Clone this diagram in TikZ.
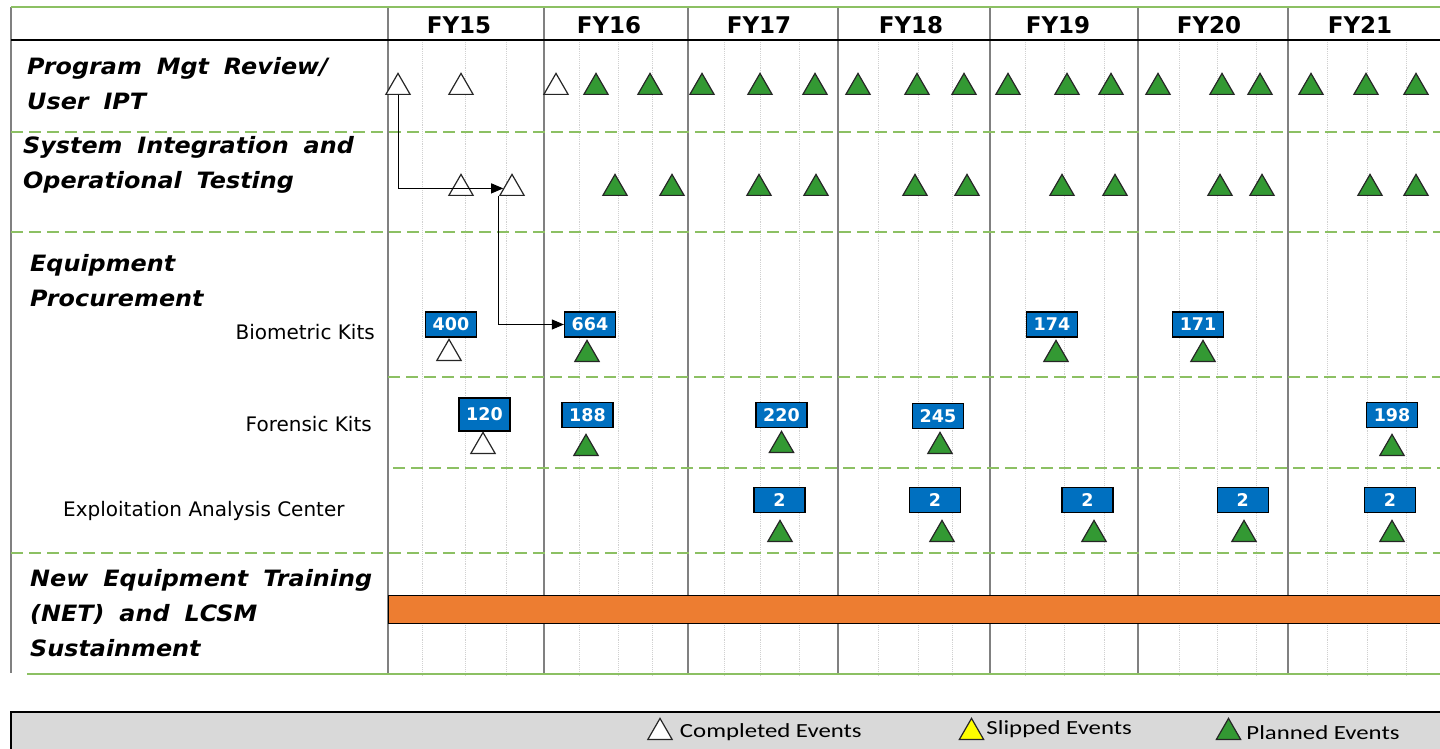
\documentclass[tikz,border=0pt]{standalone}
\usepackage{fontspec}
\setmainfont{DejaVu Sans}
\newfontfamily\rowfont[FakeStretch=1.06,WordSpace=1.8]{DejaVu Sans}
\newfontfamily\legendfont[FakeStretch=1.24]{Carlito}
\usetikzlibrary{shapes.geometric, arrows.meta, positioning}
\definecolor{gridgreen}{HTML}{8CC063}
\definecolor{plangreen}{HTML}{339933}
\definecolor{boxblue}{HTML}{0070C0}
\definecolor{netorange}{HTML}{ED7D31}
\definecolor{legendgray}{HTML}{D9D9D9}
\definecolor{slipyellow}{HTML}{FFFF00}

\begin{document}
\begin{tikzpicture}[x=1pt,y=-1pt,>={Triangle[length=12pt,width=10pt]},
    event/.style={regular polygon,regular polygon sides=3,minimum size=28pt,inner sep=0pt,
      draw=black!85,line width=1.2pt,anchor=south},
    done/.style={event,fill=white},
    planned/.style={event,fill=plangreen},
    slipped/.style={event,fill=slipyellow},
    qty/.style={draw,line width=1.2pt,fill=boxblue,text=white,inner sep=0pt,
      minimum width=51pt,minimum height=25pt,font=\bfseries\fontsize{17.5}{17.5}\selectfont},
    year/.style={font=\bfseries\fontsize{23}{23}\selectfont},
    rowlabel/.style={anchor=base west,align=left,inner sep=0pt,
      font=\rowfont\bfseries\itshape\fontsize{22.5}{35}\selectfont},
    sublabel/.style={inner sep=0pt,font=\fontsize{20}{20}\selectfont},
    legend/.style={inner sep=0pt,font=\legendfont\fontsize{20}{20}\selectfont},
    yearline/.style={black!50,line width=1.3pt},
    quarterline/.style={black!18,densely dotted,line width=0.9pt},
    rowsep/.style={gridgreen,line width=1.3pt,dash pattern=on 12pt off 6pt}]
  \useasboundingbox (0,0) rectangle (1440,749);

  % grid
  \foreach \x in {422,465,506,579,618,652,724,760,799,878,918,952,
                  1025,1064,1104,1179,1217,1256,1327,1367,1406}
    \draw[quarterline] (\x,40) -- (\x,676);
  \foreach \x in {388,544,688,838,990,1138,1288}
    \draw[yearline] (\x,7) -- (\x,674);
  \draw[yearline] (11,7) -- (11,673);
  \draw[gridgreen,line width=1.3pt] (11,7) -- (1440,7);
  \draw[line width=2.5pt] (11,40) -- (1440,40);
  \draw[rowsep] (11,132) -- (1440,132);
  \draw[rowsep] (11,232) -- (1440,232);
  \draw[rowsep] (388,377) -- (1440,377);
  \draw[rowsep] (393,468) -- (1440,468);
  \draw[rowsep] (11,553) -- (1440,553);
  \draw[gridgreen,line width=1.3pt] (27,674) -- (1440,674);

  % fiscal years
  \foreach \x/\fy in {459/15,609/16,759/17,911/18,1058/19,1209/20,1360/21}
    \node[year] (fy\fy) at (\x,25) {FY\fy};

  % row labels (placed at the baseline of their last line)
  \node[rowlabel] (pmr) at (27,110) {Program Mgt Review/\\User IPT};
  \node[rowlabel] (sit) at (23,188.5) {System Integration and\\Operational Testing};
  \node[rowlabel] (eqp) at (30,306.5) {Equipment\\Procurement};
  \node[rowlabel] (net) at (30,656.5) {New Equipment Training\\(NET) and LCSM\\Sustainment};
  \node[sublabel,anchor=base east] (bio) at (375,339) {Biometric Kits};
  \node[sublabel,anchor=base east] (for) at (372,431.5) {Forensic Kits};
  \node[sublabel,anchor=base west] (eac) at (63,516.5) {Exploitation Analysis Center};

  % program mgt review / user ipt
  \foreach \x [count=\i] in {398,461,556}
    \node[done] (pm\i) at (\x,95) {};
  \foreach \x [count=\i] in {596,650,702,760,815,858,917,964,1008,1067,
                             1111,1158,1222,1260,1311,1366,1416}
    \node[planned] (pmp\i) at (\x,95) {};

  % system integration and operational testing
  \foreach \x [count=\i] in {461,512}
    \node[done] (si\i) at (\x,196) {};
  \foreach \x [count=\i] in {615,672,759,816,915,967,1062,1115,1220,1262,1370,1416}
    \node[planned] (sip\i) at (\x,196) {};

  % biometric kits
  \foreach \x/\n [count=\i] in {451/400,590/664,1052/174,1198/171}
    \node[qty] (bk\i) at (\x,324.5) {\n};
  \node[done] (bkt1) at (449,361) {};
  \foreach \x [count=\i from 2] in {587,1056,1203}
    \node[planned] (bkt\i) at (\x,362) {};

  % forensic kits
  \node[qty,minimum height=33pt] (fk1) at (484.5,414.5) {120};
  \foreach \x/\y/\n [count=\i from 2] in {587.5/415/188,781.5/415/220,938/416/245,1392/415/198}
    \node[qty] (fk\i) at (\x,\y) {\n};
  \node[done] (fkt1) at (483,454) {};
  \foreach \x/\y [count=\i from 2] in {586/456,781.5/453,940/454,1392/456}
    \node[planned] (fkt\i) at (\x,\y) {};

  % exploitation analysis center
  \foreach \x [count=\i] in {779.5,935,1087.5,1242.6,1390}
    \node[qty] (ea\i) at (\x,500) {2};
  \foreach \x [count=\i] in {780,942,1094,1244,1392}
    \node[planned] (eat\i) at (\x,542) {};

  % net and lcsm sustainment
  \draw[fill=netorange,line width=1pt] (388,595) rectangle (1444,623);

  % links
  \draw[->,line width=1pt] (pm1.south) |- (si2);
  \draw[->,line width=1pt] (si2.corner 2) |- (bk2);

  % legend
  \draw[fill=legendgray,line width=1.2pt] (11,712) rectangle (1444,753);
  \node[done] (lgdone) at (660,740) {};
  \node[slipped] (lgslip) at (971.5,740) {};
  \node[planned] (lgplan) at (1228.5,740) {};
  \node[legend,right=11pt of lgdone] (lgdonetxt) {Completed Events};
  \node[legend,right=6pt of lgslip,yshift=3pt] (lgsliptxt) {Slipped Events};
  \node[legend,right=9pt of lgplan] (lgplantxt) {Planned Events};
\end{tikzpicture}
\end{document}
